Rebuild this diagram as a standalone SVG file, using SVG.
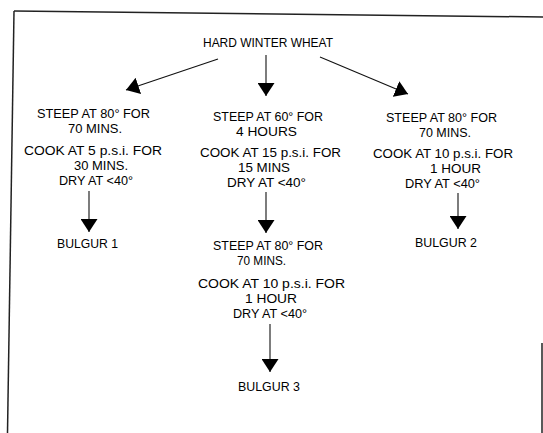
<svg xmlns="http://www.w3.org/2000/svg" width="543" height="433" viewBox="0 0 543 433">
<style>
text{font-family:"Liberation Sans",Arial,sans-serif;font-size:13.3px;fill:#000;}
.ln{stroke:#111;stroke-width:1.1;fill:none;}
.bd{stroke:#222;stroke-width:1.5;fill:none;}
</style>
<defs>
<marker id="ah" markerUnits="userSpaceOnUse" markerWidth="13" markerHeight="17" refX="13" refY="8.5" orient="auto" viewBox="0 0 13 17">
<path d="M0,0 L13,8.5 L0,17 Z" fill="#000"/>
</marker>
</defs>
<rect width="543" height="433" fill="#fff"/>
<g id="border">
<path class="bd" d="M14,11 L543,17"/>
<path class="bd" d="M14,11 L7.5,433"/>
<path class="bd" d="M542,343 L542,433"/>
</g>
<g id="connectors">
<path class="ln" d="M218,59 L126,90" marker-end="url(#ah)"/>
<path class="ln" d="M266,55 L266,96" marker-end="url(#ah)"/>
<path class="ln" d="M320,57 L408,94" marker-end="url(#ah)"/>
<path class="ln" d="M89,191 L89,232" marker-end="url(#ah)"/>
<path class="ln" d="M266,192 L266,233" marker-end="url(#ah)"/>
<path class="ln" d="M458,193 L458,229" marker-end="url(#ah)"/>
<path class="ln" d="M270,324 L270,372" marker-end="url(#ah)"/>
</g>
<g id="n-wheat"><text x="203" y="47" textLength="130" lengthAdjust="spacingAndGlyphs">HARD WINTER WHEAT</text></g>
<g id="n-left">
<text x="37" y="118" textLength="113" lengthAdjust="spacingAndGlyphs">STEEP AT 80° FOR</text>
<text x="68" y="133" textLength="54" lengthAdjust="spacingAndGlyphs">70 MINS.</text>
<text x="24" y="155" textLength="138" lengthAdjust="spacingAndGlyphs">COOK AT 5 p.s.i. FOR</text>
<text x="74" y="170" textLength="54" lengthAdjust="spacingAndGlyphs">30 MINS.</text>
<text x="59" y="185" textLength="74" lengthAdjust="spacingAndGlyphs">DRY AT &lt;40°</text>
</g>
<g id="n-bulgur1"><text x="57" y="248" textLength="61" lengthAdjust="spacingAndGlyphs">BULGUR 1</text></g>
<g id="n-mid">
<text x="213" y="121" textLength="110" lengthAdjust="spacingAndGlyphs">STEEP AT 60° FOR</text>
<text x="236" y="136" textLength="61" lengthAdjust="spacingAndGlyphs">4 HOURS</text>
<text x="200" y="157" textLength="141" lengthAdjust="spacingAndGlyphs">COOK AT 15 p.s.i. FOR</text>
<text x="238" y="172" textLength="52" lengthAdjust="spacingAndGlyphs">15 MINS</text>
<text x="227" y="187" textLength="79" lengthAdjust="spacingAndGlyphs">DRY AT &lt;40°</text>
</g>
<g id="n-mid2">
<text x="213" y="250" textLength="110" lengthAdjust="spacingAndGlyphs">STEEP AT 80° FOR</text>
<text x="237" y="265" textLength="49" lengthAdjust="spacingAndGlyphs">70 MINS.</text>
<text x="198" y="288" textLength="147" lengthAdjust="spacingAndGlyphs">COOK AT 10 p.s.i. FOR</text>
<text x="245" y="303" textLength="52" lengthAdjust="spacingAndGlyphs">1 HOUR</text>
<text x="233" y="318" textLength="74" lengthAdjust="spacingAndGlyphs">DRY AT &lt;40°</text>
</g>
<g id="n-bulgur3"><text x="238" y="391" textLength="62" lengthAdjust="spacingAndGlyphs">BULGUR 3</text></g>
<g id="n-right">
<text x="386" y="122" textLength="111" lengthAdjust="spacingAndGlyphs">STEEP AT 80° FOR</text>
<text x="419" y="137" textLength="52" lengthAdjust="spacingAndGlyphs">70 MINS.</text>
<text x="373" y="158" textLength="140" lengthAdjust="spacingAndGlyphs">COOK AT 10 p.s.i. FOR</text>
<text x="430" y="173" textLength="51" lengthAdjust="spacingAndGlyphs">1 HOUR</text>
<text x="405" y="188" textLength="75" lengthAdjust="spacingAndGlyphs">DRY AT &lt;40°</text>
</g>
<g id="n-bulgur2"><text x="415" y="247" textLength="62" lengthAdjust="spacingAndGlyphs">BULGUR 2</text></g>
</svg>
